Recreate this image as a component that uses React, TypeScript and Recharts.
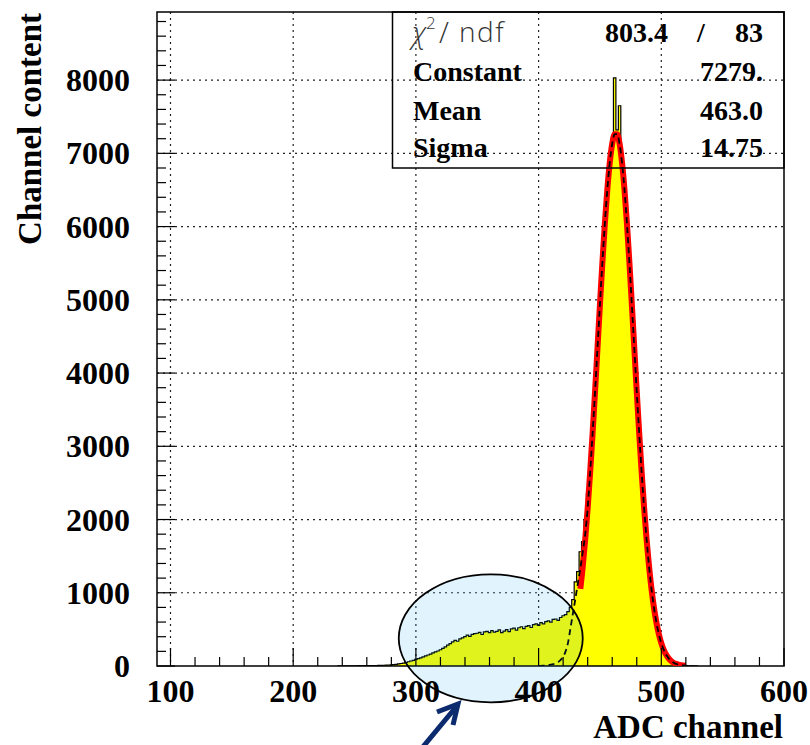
import React from 'react';
import {
  ComposedChart,
  Area,
  Line,
  XAxis,
  YAxis,
  CartesianGrid,
  ReferenceArea,
  ReferenceDot,
} from 'recharts';

// histogram: 2-channel bins, value given at bin centre
const BIN_START = 236;
const BIN_WIDTH = 2;
const counts = [
  // 236 - 268
  1, 1, 2, 1, 2, 2, 3, 3, 2, 4, 3, 4, 5, 4, 6, 5, 7,
  // 270 - 298
  8, 9, 10, 12, 14, 16, 19, 23, 28, 34, 40, 48, 58, 68, 78,
  // 300 - 348
  90, 100, 112, 124, 138, 150, 163, 178, 192, 205, 222, 240, 262, 285, 305, 330, 350, 338, 370, 385,
  400, 422, 405, 432, 442,
  // 350 - 398
  447, 458, 430, 466, 472, 455, 482, 462, 472, 492, 455, 476, 496, 470, 506, 516, 490, 522, 536, 510,
  542, 552, 526, 566, 576,
  // 400 - 428
  556, 592, 576, 606, 616, 600, 636, 642, 622, 662, 686, 702, 742, 800, 905,
  // 430 - 468
  1150, 1290, 1560, 1700, 2000, 2358, 2762, 3235, 3766, 4340, 4936, 5512, 6042, 6504, 6873, 7180,
  8030, 7320, 7650, 6873,
  // 470 - 530
  6504, 6042, 5512, 4936, 4340, 3746, 3175, 2642, 2158, 1731, 1363, 1053, 799, 596, 436, 313, 221,
  153, 104, 69, 45, 29, 18, 11, 7, 4, 3, 2, 2, 1, 0,
];

// gaussian fit (red)
const FIT_START = 434;
const fitValues = [
  1053, 1363, 1731, 2158, 2642, 3175, 3746, 4340, 4936, 5512, 6042, 6504, 6873, 7130, 7262, 7262,
  7130, 6873, 6504, 6042, 5512, 4936, 4340, 3746, 3175, 2642, 2158, 1731, 1363, 1053, 799, 596,
  436, 313, 221, 153, 104, 69, 45, 29, 18, 11, 7, 4,
];

// dashed curve
const DASH_START = 400;
const dashValues = [
  0, 2, 5, 8, 12, 18, 26, 38, 55, 82, 125, 200, 320, 520, 720, 920, 1130, 1330, 1560, 1800, 2158,
  2642, 3175, 3746, 4340, 4936, 5512, 6042, 6504, 6873, 7130, 7262, 7262, 7130, 6873, 6504, 6042,
  5512, 4936, 4340, 3746, 3175, 2642, 2158, 1731, 1363, 1053, 799, 596, 436, 313, 221, 153, 104,
  69, 45, 29, 18, 11, 7, 4, 2, 1, 0,
];

const xTicks = [
  100, 120, 140, 160, 180, 200, 220, 240, 260, 280, 300, 320, 340, 360, 380, 400, 420, 440, 460,
  480, 500, 520, 540, 560, 580, 600,
];
const xMajor = [100, 200, 300, 400, 500];
const yTicks = [
  0, 200, 400, 600, 800, 1000, 1200, 1400, 1600, 1800, 2000, 2200, 2400, 2600, 2800, 3000, 3200,
  3400, 3600, 3800, 4000, 4200, 4400, 4600, 4800, 5000, 5200, 5400, 5600, 5800, 6000, 6200, 6400,
  6600, 6800, 7000, 7200, 7400, 7600, 7800, 8000, 8200, 8400, 8600, 8800,
];
const yMajor = [1000, 2000, 3000, 4000, 5000, 6000, 7000, 8000];

const X_DOMAIN = [89, 600];
const Y_DOMAIN = [0, 8930];

const pick = (arr: number[], start: number, ch: number) => {
  const i = (ch - start) / BIN_WIDTH;
  return i >= 0 && i < arr.length ? arr[i] : null;
};

const rows = counts.map((c, i) => {
  const ch = BIN_START + i * BIN_WIDTH;
  return { ch, hist: c, fit: pick(fitValues, FIT_START, ch), dash: pick(dashValues, DASH_START, ch) };
});

const serif = '"Liberation Serif", "Times New Roman", serif';

const XTick = (props: any) => {
  const { x, y, payload } = props;
  const major = payload.value % 100 === 0;
  return (
    <g>
      <line x1={x} x2={x} y1={y} y2={y - (major ? 18 : 9)} stroke="#000" strokeWidth={1.2} />
      {major && (
        <text x={x} y={y + 36} textAnchor="middle" fontFamily={serif} fontWeight={700} fontSize={32} fill="#000">
          {payload.value}
        </text>
      )}
    </g>
  );
};

const YTick = (props: any) => {
  const { x, y, payload } = props;
  const major = payload.value % 1000 === 0;
  return (
    <g>
      <line x1={x} x2={x + (major ? 18 : 9)} y1={y} y2={y} stroke="#000" strokeWidth={1.2} />
      {major && (
        <text x={x - 27} y={y + 11} textAnchor="end" fontFamily={serif} fontWeight={700} fontSize={32} fill="#000">
          {payload.value}
        </text>
      )}
    </g>
  );
};

const Ellipse = (props: any) => (
  <ellipse
    cx={props.cx}
    cy={props.cy}
    rx={92}
    ry={64}
    fill="#0aa0e6"
    fillOpacity={0.12}
    stroke="#000"
    strokeWidth={1.8}
  />
);

export default function App() {
  return (
    <div style={{ position: 'absolute', left: 0, top: 0, width: 810, height: 745, background: '#fff' }}>
      <ComposedChart
        width={810}
        height={745}
        data={rows}
        margin={{ top: 12, right: 26, bottom: 49, left: 97 }}
      >
        <CartesianGrid
          horizontalValues={yMajor}
          verticalValues={xMajor}
          stroke="#222"
          strokeDasharray="2 4"
          strokeWidth={1.2}
        />
        <XAxis
          type="number"
          dataKey="ch"
          domain={X_DOMAIN}
          allowDataOverflow
          ticks={xTicks}
          interval={0}
          tickSize={0}
          tickMargin={0}
          tick={<XTick />}
          axisLine={false}
          height={30}
        />
        <YAxis
          type="number"
          domain={Y_DOMAIN}
          allowDataOverflow
          ticks={yTicks}
          interval={0}
          tickSize={0}
          tickMargin={0}
          tick={<YTick />}
          axisLine={false}
          width={60}
        />
        <Area
          type="step"
          dataKey="hist"
          stroke="#000"
          strokeWidth={1.2}
          fill="#ffff00"
          fillOpacity={1}
          dot={false}
          activeDot={false}
          isAnimationActive={false}
        />
        <Line
          type="monotone"
          dataKey="fit"
          stroke="#ff0000"
          strokeWidth={6}
          dot={false}
          activeDot={false}
          isAnimationActive={false}
        />
        <Line
          type="monotone"
          dataKey="dash"
          stroke="#000"
          strokeWidth={1.8}
          strokeDasharray="6 4"
          dot={false}
          activeDot={false}
          isAnimationActive={false}
        />
        <ReferenceDot x={361} y={378} shape={<Ellipse />} />
        <ReferenceArea
          x1={X_DOMAIN[0]}
          x2={X_DOMAIN[1]}
          y1={Y_DOMAIN[0]}
          y2={Y_DOMAIN[1]}
          fill="none"
          stroke="#000"
          strokeWidth={1.5}
          ifOverflow="visible"
        />
      </ComposedChart>
      <svg
        width={810}
        height={745}
        style={{ position: 'absolute', left: 0, top: 0, pointerEvents: 'none' }}
      >
        {/* stats box */}
        <rect x={392.5} y={12} width={391.5} height={156} fill="none" stroke="#000" strokeWidth={1.5} />
        <g fontFamily='"Open Sans", "DejaVu Sans", sans-serif' fontWeight={300} fill="#333">
          <text x={412} y={43} fontSize={29} fontStyle="italic">χ</text>
          <text x={426} y={29} fontSize={17}>2</text>
          <text x={439} y={43} fontSize={29}>/</text>
          <text x={459} y={42} fontSize={28} letterSpacing={1.5}>ndf</text>
        </g>
        <g fontFamily={serif} fontWeight={700} fontSize={28} fill="#000">
          <text x={668} y={42} textAnchor="end">803.4</text>
          <text x={701} y={42} textAnchor="middle">/</text>
          <text x={763} y={42} textAnchor="end">83</text>
          <text x={413} y={81}>Constant</text>
          <text x={763} y={81} textAnchor="end">7279.</text>
          <text x={413} y={120}>Mean</text>
          <text x={763} y={120} textAnchor="end">463.0</text>
          <text x={413} y={157}>Sigma</text>
          <text x={763} y={157} textAnchor="end">14.75</text>
        </g>
        {/* axis titles */}
        <text
          x={41}
          y={13}
          transform="rotate(-90 41 13)"
          textAnchor="end"
          fontFamily={serif}
          fontWeight={700}
          fontSize={33}
          fill="#000"
        >
          Channel content
        </text>
        <text x={783} y={738} textAnchor="end" fontFamily={serif} fontWeight={700} fontSize={33} fill="#000">
          ADC channel
        </text>
        {/* arrow */}
        <g stroke="#0b2b6e" strokeWidth={5} fill="none" strokeLinecap="butt">
          <line x1={422} y1={748} x2={456} y2={707} />
          <polyline points="437,712 458,704 453,725" strokeLinejoin="miter" />
        </g>
      </svg>
    </div>
  );
}
